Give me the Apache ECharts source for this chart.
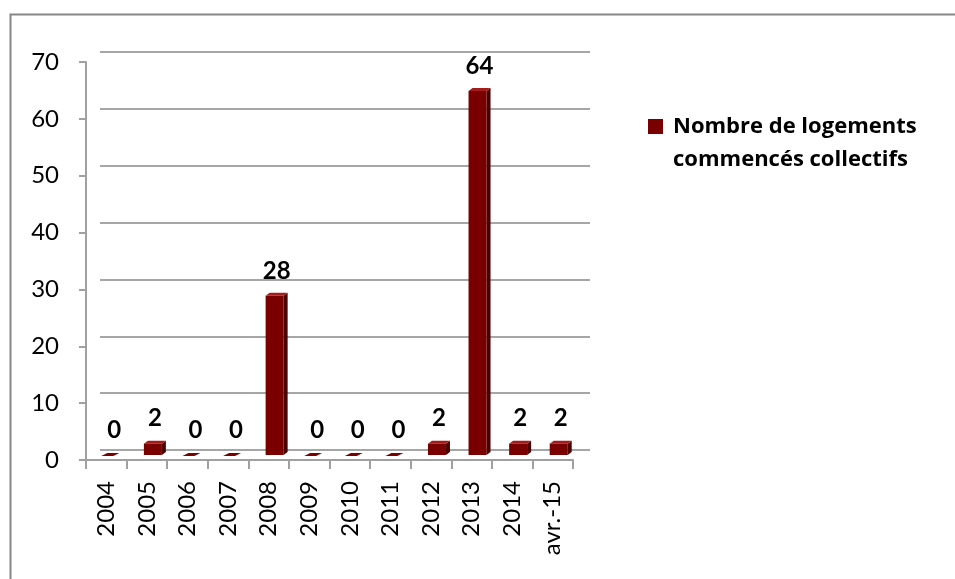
<!DOCTYPE html>
<html>
<head>
<meta charset="utf-8">
<script src="https://cdn.jsdelivr.net/npm/echarts@6/dist/echarts.min.js"></script>
<style>
html,body{margin:0;padding:0;background:#fff;}
#chart{width:955px;height:579px;}
</style>
</head>
<body>
<div id="chart"></div>
<script>
var categories = ['2004','2005','2006','2007','2008','2009','2010','2011','2012','2013','2014','avr.-15'];
var values = [0, 2, 0, 0, 28, 0, 0, 0, 2, 64, 2, 2];
var seriesName = 'Nombre de logements\ncommencés collectifs';
var yTicks = [0, 10, 20, 30, 40, 50, 60, 70];

var FONT = 'Lato';
var chart = echarts.init(document.getElementById('chart'), null, {renderer: 'canvas'});

function renderBar(params, api) {
  var v = api.value(1);
  var p0 = api.coord([api.value(0), 0]);
  var p1 = api.coord([api.value(0), v]);
  var w = 18, dx = 4, dy = 3;
  var x = p0[0] - w / 2 - 1;
  var yb = p0[1], yt = p1[1];
  var children = [];
  if (v > 0) {
    children.push({type: 'rect', shape: {x: x, y: yt, width: w, height: yb - yt}, style: {fill: '#7a0000'}});
    children.push({type: 'polygon', shape: {points: [[x + w, yt], [x + w + dx, yt - dy], [x + w + dx, yb - dy], [x + w, yb]]}, style: {fill: '#4a0000'}});
    children.push({type: 'polygon', shape: {points: [[x, yt], [x + dx, yt - dy], [x + w + dx, yt - dy], [x + w, yt]]}, style: {fill: '#a31c1c'}});
  } else {
    children.push({type: 'polygon', shape: {points: [[x - 2, yb + 1], [x + dx, yb - dy + 1], [x + w - 2, yb - dy + 1], [x + w - 8, yb + 1]]}, style: {fill: '#7a0000'}});
  }
  children.push({
    type: 'text',
    style: {
      text: String(v), x: x + w / 2 + 2, y: yt - dy - 22,
      align: 'center', verticalAlign: 'middle',
      font: 'bold 24px ' + FONT, fill: '#000'
    }
  });
  return {type: 'group', children: children};
}

var option = {
  backgroundColor: '#fff',
  animation: false,
  graphic: [{
    type: 'rect', left: 8, top: 12, z: -10,
    shape: {width: 970, height: 620},
    style: {fill: 'none', stroke: '#868686', lineWidth: 2}
  }],
  legend: {
    left: 648, top: 110, padding: 0,
    orient: 'vertical',
    itemWidth: 15, itemHeight: 48, itemGap: 8,
    icon: 'path://M0,0H15V15H0Z M0,48L15,48',
    data: [{name: seriesName, itemStyle: {color: '#7a0000'}}],
    textStyle: {fontFamily: 'Open Sans', fontWeight: 'bold', fontSize: 22, color: '#000', lineHeight: 33, padding: [0, 0, 0, 5]}
  },
  grid: [
    {left: 86, top: 62, width: 487, height: 398},
    {left: 100, top: 52, width: 490, height: 398},
    {left: 93, top: 57, width: 487, height: 398}
  ],
  xAxis: [
    {
      type: 'category', gridIndex: 0, data: categories,
      axisLine: {show: true, lineStyle: {color: '#a0a0a0', width: 2}},
      axisTick: {show: true, alignWithLabel: false, length: 9, lineStyle: {color: '#a0a0a0', width: 2}},
      axisLabel: {rotate: 90, margin: 21, fontFamily: FONT, fontSize: 24, color: '#000', interval: 0},
      splitLine: {show: false}
    },
    {
      type: 'category', gridIndex: 1, data: categories,
      axisLine: {show: false}, axisTick: {show: false}, axisLabel: {show: false}, splitLine: {show: false}
    },
    {
      type: 'category', gridIndex: 2, data: categories,
      axisLine: {show: false}, axisTick: {show: false}, axisLabel: {show: false}, splitLine: {show: false}
    }
  ],
  yAxis: [
    {
      type: 'value', gridIndex: 0, min: 0, max: 70, interval: 10,
      axisLine: {show: true, lineStyle: {color: '#a0a0a0', width: 2}},
      axisTick: {show: true, length: 7, lineStyle: {color: '#a0a0a0', width: 2}},
      axisLabel: {margin: 27, fontFamily: FONT, fontSize: 24, color: '#000',
        formatter: function (v) { return yTicks.indexOf(v) >= 0 ? String(v) : ''; }},
      splitLine: {show: false}
    },
    {
      type: 'value', gridIndex: 1, min: 0, max: 70, interval: 10,
      axisLine: {show: false}, axisTick: {show: false}, axisLabel: {show: false},
      splitLine: {show: true, lineStyle: {color: '#a6a6a6', width: 2}}
    },
    {
      type: 'value', gridIndex: 2, min: 0, max: 70, interval: 10,
      axisLine: {show: false}, axisTick: {show: false}, axisLabel: {show: false}, splitLine: {show: false}
    }
  ],
  series: [{
    name: seriesName,
    type: 'custom',
    xAxisIndex: 2, yAxisIndex: 2,
    itemStyle: {color: '#7a0000'},
    renderItem: renderBar,
    data: values.map(function (v, i) { return [i, v]; }),
    z: 5
  }]
};
chart.setOption(option);
</script>
</body>
</html>
